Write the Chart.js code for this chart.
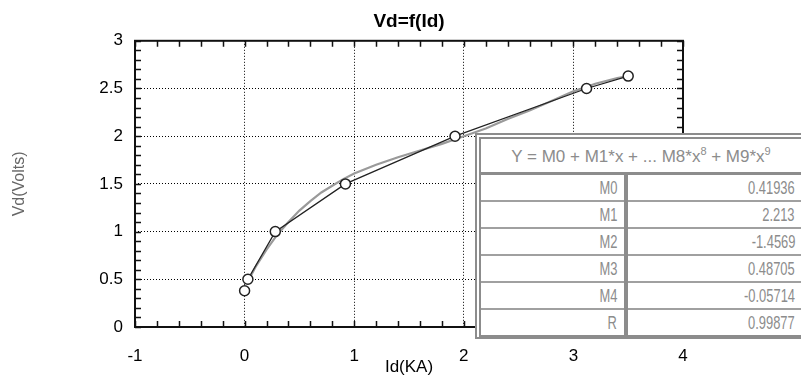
<!DOCTYPE html>
<html>
<head>
<meta charset="utf-8">
<script src="https://cdn.jsdelivr.net/npm/chart.js@4.4.1/dist/chart.umd.min.js"></script>
<style>
  html, body { margin: 0; padding: 0; background: #fff; overflow: hidden; }
  #wrap { position: relative; width: 801px; height: 379px; }
  #fitTable {
    position: absolute; left: 475px; top: 133px; width: 326px;
    border: 6px double #8c8c8c; border-right: none; border-bottom: 4px solid #8c8c8c;
    background: #fff; box-sizing: border-box;
  }
  #fitTable table { width: 100%; border-collapse: collapse; font-family: 'Liberation Sans', Arial, sans-serif; color: #8c8c8c; }
  #fitTable th { font-weight: normal; font-size: 17px; height: 33px; border-bottom: 3px solid #8c8c8c; text-align: center; padding: 0; }
  #fitTable th sup { font-size: 11px; }
  #fitTable td { height: 25px; border-bottom: 2px solid #a0a0a0; padding: 0; text-align: right; font-size: 19px; }
  #fitTable tr:last-child td { border-bottom: none; }
  #fitTable td span { display: inline-block; transform: scaleX(0.68); transform-origin: right center; }
  #fitTable td.lbl { width: 136px; padding-right: 7px; border-right: 4px solid #8c8c8c; }
  #fitTable td.val { padding-right: 6px; }
</style>
</head>
<body>
<div id="wrap">
  <canvas id="vdChart" width="801" height="379"></canvas>
  <div id="fitTable">
    <table>
      <thead><tr><th colspan="2">Y = M0 + M1*x + ... M8*x<sup>8</sup> + M9*x<sup>9</sup></th></tr></thead>
      <tbody id="fitBody"></tbody>
    </table>
  </div>
</div>
<script>
// measured points: diode current (kA) vs forward voltage (V)
const idKA = [0, 0.03, 0.28, 0.92, 1.92, 3.12, 3.5];
const vdVolts = [0.38, 0.5, 1.0, 1.5, 2.0, 2.5, 2.63];

// polynomial fit curve
const fitX = [0.03, 0.1, 0.2, 0.3, 0.4, 0.5, 0.6, 0.7, 0.8, 0.9, 1.0, 1.2, 1.4, 1.6, 1.8, 2.0, 2.2, 2.4, 2.6, 2.8, 3.0, 3.2, 3.4, 3.5];
const fitY = [0.48, 0.63, 0.81, 0.97, 1.10, 1.22, 1.32, 1.41, 1.48, 1.55, 1.61, 1.70, 1.78, 1.85, 1.92, 2.00, 2.08, 2.18, 2.27, 2.37, 2.47, 2.55, 2.61, 2.63];

// fit coefficients
const coefNames = ['M0', 'M1', 'M2', 'M3', 'M4', 'R'];
const coefValues = ['0.41936', '2.213', '-1.4569', '0.48705', '-0.05714', '0.99877'];

const xTicks = [-1, 0, 1, 2, 3, 4];
const yTicks = [0, 0.5, 1, 1.5, 2, 2.5, 3];

const tbody = document.getElementById('fitBody');
coefNames.forEach((name, i) => {
  const tr = document.createElement('tr');
  tr.innerHTML = '<td class="lbl"><span>' + name + '</span></td><td class="val"><span>' + coefValues[i] + '</span></td>';
  tbody.appendChild(tr);
});

const FONT = "'Liberation Sans', Arial, sans-serif";

// frame + small inward ticks on all four sides
const frameTicks = {
  id: 'frameTicks',
  afterDatasetsDraw(chart) {
    const { ctx, chartArea: a, scales } = chart;
    const xs = scales.x, ys = scales.y;
    ctx.save();
    ctx.strokeStyle = '#111';
    ctx.lineWidth = 1.5;
    ctx.beginPath();
    for (let v = xs.min; v <= xs.max + 1e-9; v += 0.2) {
      const px = Math.round(xs.getPixelForValue(v)) + 0.5;
      ctx.moveTo(px, a.bottom); ctx.lineTo(px, a.bottom - 6);
      ctx.moveTo(px, a.top); ctx.lineTo(px, a.top + 6);
    }
    for (let v = ys.min; v <= ys.max + 1e-9; v += 0.1) {
      const py = Math.round(ys.getPixelForValue(v)) + 0.5;
      ctx.moveTo(a.left, py); ctx.lineTo(a.left + 6, py);
      ctx.moveTo(a.right, py); ctx.lineTo(a.right - 6, py);
    }
    ctx.stroke();
    ctx.lineWidth = 2;
    ctx.strokeRect(a.left, a.top, a.right - a.left, a.bottom - a.top);
    ctx.restore();
  }
};

new Chart(document.getElementById('vdChart').getContext('2d'), {
  type: 'scatter',
  data: {
    datasets: [
      {
        label: 'Vd',
        data: idKA.map((x, i) => ({ x: x, y: vdVolts[i] })),
        showLine: true,
        borderColor: '#222',
        borderWidth: 1.3,
        // first reading is left unconnected
        segment: { borderColor: c => c.p0DataIndex === 0 ? 'rgba(0,0,0,0)' : '#222' },
        pointRadius: 5,
        pointBackgroundColor: '#fff',
        pointBorderColor: '#222',
        pointBorderWidth: 1.5,
        order: 0
      },
      {
        label: 'fit',
        data: fitX.map((x, i) => ({ x: x, y: fitY[i] })),
        showLine: true,
        borderColor: '#9a9a9a',
        borderWidth: 2.2,
        pointRadius: 0,
        tension: 0,
        order: 1
      }
    ]
  },
  options: {
    responsive: false,
    animation: false,
    layout: { padding: { left: 0, right: 118, top: 0, bottom: 0 } },
    plugins: {
      legend: { display: false },
      tooltip: { enabled: false },
      title: {
        display: true,
        fullSize: false,
        text: 'Vd=f(Id)',
        color: '#000',
        font: { family: FONT, size: 19, weight: 'bold' },
        padding: { top: 10, bottom: 8 }
      }
    },
    scales: {
      x: {
        type: 'linear',
        min: -1, max: 4,
        afterBuildTicks: s => { s.ticks = xTicks.map(v => ({ value: v })); },
        afterFit: s => { s.height = 52; },
        ticks: { color: '#000', font: { family: FONT, size: 17 }, padding: 19, callback: v => String(v) },
        grid: { color: '#000', lineWidth: 1, drawTicks: false },
        border: { display: false, dash: [1, 2] },
        title: {
          display: true, text: 'Id(KA)', color: '#000',
          font: { family: FONT, size: 17 }, padding: { top: 0, bottom: 1 }
        }
      },
      y: {
        type: 'linear',
        min: 0, max: 3,
        afterBuildTicks: s => { s.ticks = yTicks.map(v => ({ value: v })); },
        afterFit: s => { s.width = 135; },
        ticks: { color: '#000', font: { family: FONT, size: 17 }, padding: 12, callback: v => String(v) },
        grid: { color: '#000', lineWidth: 1, drawTicks: false },
        border: { display: false, dash: [1, 2] },
        title: {
          display: true, text: 'Vd(Volts)', color: '#666',
          font: { family: FONT, size: 16 }, padding: { top: 10, bottom: 0 }
        }
      }
    }
  },
  plugins: [frameTicks]
});
</script>
</body>
</html>
